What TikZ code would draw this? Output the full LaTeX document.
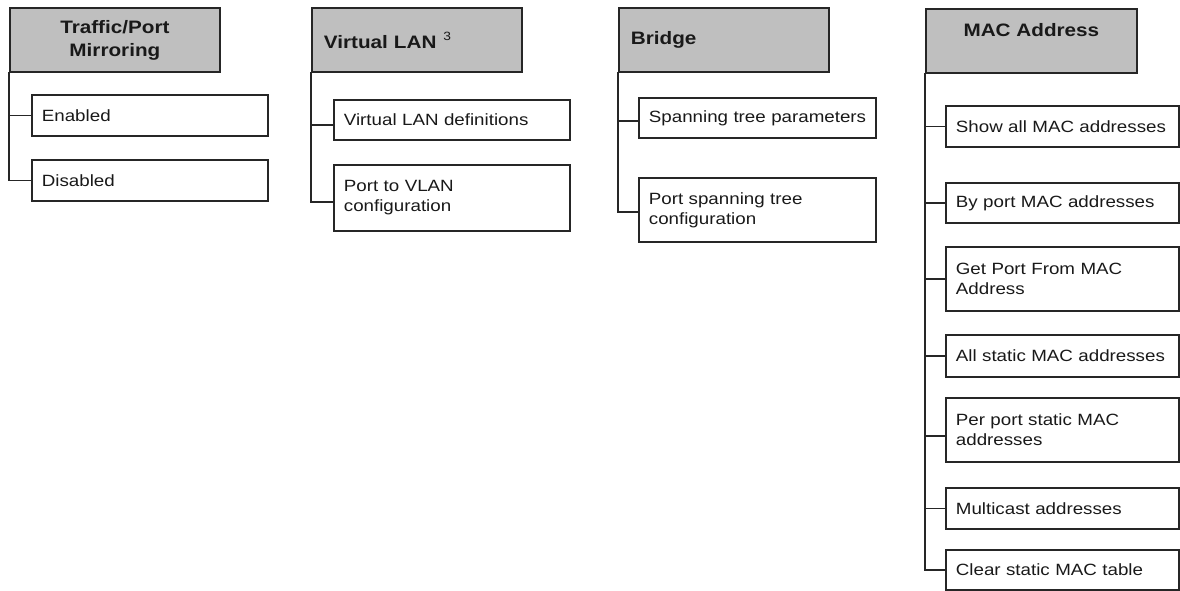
\documentclass[tikz,border=0pt]{standalone}
\usepackage{fontspec}
\setmainfont{Liberation Sans}[FakeStretch=1.15]
\begin{document}
\begin{tikzpicture}[x=1pt,y=-1pt,
  lc/.style={draw=black!85, line width=1.8pt},
  hdr/.style={lc, fill=black!25, anchor=north west, text=black!90,
    font=\fontsize{18}{23}\selectfont\bfseries, minimum width=210pt, minimum height=64pt},
  item/.style={lc, fill=white, anchor=north west, text=black!90, align=left, inner xsep=10pt,
    font=\fontsize{16.3}{20}\selectfont},
  one/.style={item, minimum height=41pt},
  two/.style={item, minimum height=65pt},
  conn/.style={lc, line cap=rect}]
\useasboundingbox (0,0) rectangle (1180,590);
% Panel 1
\node[hdr, align=center] (h1) at (9,7) {Traffic/Port\\Mirroring};
\node[one, minimum width=236pt, text width=216pt] (a1) at (31,94) {Enabled};
\node[one, minimum width=236pt, text width=216pt] (a2) at (31,159) {Disabled};
\draw[conn] (h1.south west) |- (a1.west);
\draw[conn] (h1.south west) |- (a2.west);
% Panel 2
\node[hdr, align=left, inner xsep=12pt, text width=186pt] (h2) at (311,7) {Virtual LAN\hspace{7pt}\raisebox{8pt}{\fontsize{12}{12}\selectfont\mdseries 3}};
\node[one, minimum width=236pt, text width=216pt, minimum height=40pt] (b1) at (333,99) {Virtual LAN definitions};
\node[two, minimum width=236pt, text width=216pt, minimum height=66pt] (b2) at (333,164) {Port to VLAN\\configuration};
\draw[conn] (h2.south west) |- ([yshift=-5pt]b1.west);
\draw[conn] (h2.south west) |- ([yshift=-4pt]b2.west);
% Panel 3
\node[hdr, align=left, inner xsep=12pt, text width=186pt] (h3) at (618,7) {Bridge};
\node[one, minimum width=237pt, text width=217pt, minimum height=40pt] (c1) at (638,97) {\mbox{Spanning tree parameters}};
\node[two, minimum width=237pt, text width=217pt, minimum height=64pt] (c2) at (638,177) {Port spanning tree\\configuration};
\draw[conn] (h3.south west) |- ([yshift=-3pt]c1.west);
\draw[conn] (h3.south west) |- ([yshift=-2pt]c2.west);
% Panel 4
\node[hdr, minimum width=211pt, align=center, text height=24pt, text depth=32pt, inner ysep=4pt, minimum height=0pt] (h4) at (925,8) {MAC Address};
\node[one, minimum width=233pt, text width=213pt] (d1) at (945,105) {\mbox{Show all MAC addresses}};
\node[one, minimum width=233pt, text width=213pt, minimum height=40pt] (d2) at (945,182) {\mbox{By port MAC addresses}};
\node[two, minimum width=233pt, text width=213pt, minimum height=64pt] (d3) at (945,246) {Get Port From MAC\\Address};
\node[one, minimum width=233pt, text width=213pt, minimum height=42pt] (d4) at (945,334) {\mbox{All static MAC addresses}};
\node[two, minimum width=233pt, text width=213pt, minimum height=64pt] (d5) at (945,397) {Per port static MAC\\addresses};
\node[one, minimum width=233pt, text width=213pt] (d6) at (945,487) {\mbox{Multicast addresses}};
\node[one, minimum width=233pt, text width=213pt, minimum height=40pt] (d7) at (945,549) {\mbox{Clear static MAC table}};
\foreach \n in {d1,d2,d3,d4,d6,d7} \draw[conn] (h4.south west) |- (\n.west);
\draw[conn] (h4.south west) |- ([yshift=-6pt]d5.west);
\end{tikzpicture}
\end{document}
